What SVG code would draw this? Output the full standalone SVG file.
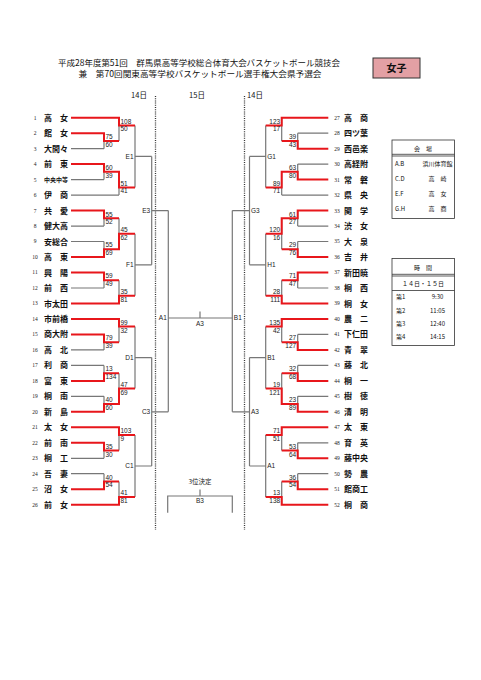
<svg xmlns="http://www.w3.org/2000/svg" width="481" height="680" viewBox="0 0 481 680">
<style>
.g{stroke:#777;stroke-width:1.2;fill:none}
.r{stroke:#e8161b;stroke-width:2;fill:none}
.dot{stroke:#333;stroke-width:1.3;stroke-dasharray:1 1.2;fill:none}
.nm{font-family:"Noto Sans CJK JP","Noto Sans CJK SC",sans-serif;font-size:8px;font-weight:bold;fill:#111}
.nm5{font-family:"Noto Sans CJK JP",sans-serif;font-size:6px;font-weight:bold;fill:#111}
.no{font-family:"Liberation Serif",serif;font-size:5.5px;fill:#222}
.sc{font-family:"Liberation Sans",sans-serif;font-size:6.5px;fill:#222}
.ml{font-family:"Liberation Sans",sans-serif;font-size:6.5px;fill:#222}
.hd{font-family:"Noto Sans CJK JP",sans-serif;font-size:8.5px;fill:#111}
.dt{font-family:"Noto Sans CJK JP",sans-serif;font-size:7.5px;fill:#111}
.tb{font-family:"Noto Sans CJK JP",sans-serif;font-size:6px;fill:#111}
.tl{stroke:#333;stroke-width:0.8;fill:none}
</style>
<rect width="481" height="680" fill="#fff"/>

<g id="title">
<text class="hd" x="199" y="66.3" text-anchor="middle" textLength="282" lengthAdjust="spacingAndGlyphs">平成28年度第51回　群馬県高等学校総合体育大会バスケットボール競技会</text>
<text class="hd" x="200" y="77" text-anchor="middle" textLength="243" lengthAdjust="spacingAndGlyphs">兼　第70回関東高等学校バスケットボール選手権大会県予選会</text>
</g>
<g id="badge">
<rect x="373" y="58" width="47" height="20" fill="#e3a0a4" stroke="#333" stroke-width="1"/>
<text x="396.5" y="71.8" text-anchor="middle" font-family="Noto Sans CJK JP,sans-serif" font-size="10" font-weight="bold" fill="#111">女子</text>
</g>
<g id="dates">
<text class="dt" x="139" y="97.5" text-anchor="middle">14日</text>
<text class="dt" x="197" y="97.5" text-anchor="middle">15日</text>
<text class="dt" x="255" y="97.5" text-anchor="middle">14日</text>
</g>

<g id="connectors">
<path class="dot" d="M155.5,96V530M244.5,96V530"/>
<!-- left gray -->
<path class="g" d="M71,148.7H104M71,179.6H104M71,195.1H119M71,226.1H104M71,241.5H104M71,288H104M71,349.9H104M71,365.4H104M71,396.3H104M71,458.3H104M71,473.7H104"/>
<path class="g" d="M104,133.2V148.7M104,164.1V179.6M104,210.6V226.1M104,241.5V257M104,272.5V288M104,334.4V349.9M104,365.4V380.9M104,396.3V411.8M104,442.8V458.3M104,473.7V489.2"/>
<path class="g" d="M119,117.7V141M119,171.85V195.1M119,218.35V249.25M119,280.25V303.5M119,318.9V342.15M119,373.15V404.05M119,427.3V450.55M119,481.45V504.7"/>
<path class="g" d="M135,125.4V187.4M135,233.8V295.8M135,326.6V388.6M135,435V497"/>
<path class="g" d="M135,156.4H151.7M135,264.8H151.7M135,357.6H151.7M135,466H151.7M151.7,156.4V264.8M151.7,357.6V466M151.7,210.6H168.3M151.7,411.8H168.3M168.3,210.6V411.8"/>
<path class="g" d="M168.3,318H232.3M200,311.5V318"/>
<!-- right gray -->
<path class="g" d="M328.3,133.2H297.7M328.3,164.1H297.7M328.3,195.1H281.7M328.3,226.1H297.7M328.3,241.5H297.7M328.3,288H297.7M328.3,334.4H297.7M328.3,365.4H297.7M328.3,396.3H297.7M328.3,442.8H297.7M328.3,473.7H297.7"/>
<path class="g" d="M297.7,133.2V148.7M297.7,164.1V179.6M297.7,210.6V226.1M297.7,241.5V257M297.7,272.5V288M297.7,334.4V349.9M297.7,365.4V380.9M297.7,396.3V411.8M297.7,442.8V458.3M297.7,473.7V489.2"/>
<path class="g" d="M281.7,117.7V141M281.7,171.85V195.1M281.7,218.35V249.25M281.7,280.25V303.5M281.7,318.9V342.15M281.7,373.15V404.05M281.7,427.3V450.55M281.7,481.45V504.7"/>
<path class="g" d="M265.7,125.4V187.4M265.7,233.8V295.8M265.7,326.6V388.6M265.7,435V497"/>
<path class="g" d="M265.7,156.4H249.5M265.7,264.8H249.5M265.7,357.6H249.5M265.7,466H249.5M249.5,156.4V264.8M249.5,357.6V466M249.5,210.6H232.3M249.5,411.8H232.3M232.3,210.6V411.8"/>
<!-- third place -->
<path class="g" d="M167.7,512.7V496H232.3V512.7M200,489.5V496"/>
<!-- left red -->
<path class="r" d="M71,117.7H119V125.4H135M71,133.2H104V141H119M71,164.1H104V171.85H119V187.4H135M71,210.6H104V218.35H119M71,257H104V249.25H119V233.8H135M71,272.5H104V280.25H119M71,303.5H119V295.8H135"/>
<path class="r" d="M71,318.9H119V326.6H135M71,334.4H104V342.15H119M71,380.9H104V373.15H119M71,411.8H104V404.05H119V388.6H135M71,427.3H119V435H135M71,442.8H104V450.55H119M71,489.2H104V481.45H119M71,504.7H119V497H135"/>
<!-- right red -->
<path class="r" d="M328.3,117.7H281.7V125.4H265.7M328.3,148.7H297.7V141H281.7M328.3,179.6H297.7V171.85H281.7V187.4H265.7M328.3,210.6H297.7V218.35H281.7V233.8H265.7M328.3,257H297.7V249.25H281.7M328.3,272.5H297.7V280.25H281.7M328.3,303.5H281.7V295.8H265.7"/>
<path class="r" d="M328.3,318.9H281.7V326.6H265.7M328.3,349.9H297.7V342.15H281.7M328.3,380.9H297.7V373.15H281.7M328.3,411.8H297.7V404.05H281.7V388.6H265.7M328.3,427.3H281.7V435H265.7M328.3,458.3H297.7V450.55H281.7M328.3,489.2H297.7V481.45H281.7M328.3,504.7H281.7V497H265.7"/>
</g>

<g id="scores-left" class="sc">
<text x="105.5" y="139.2">75</text><text x="105.5" y="147">60</text>
<text x="105.5" y="170">60</text><text x="105.5" y="177.9">39</text>
<text x="105.5" y="216.5">55</text><text x="105.5" y="224.3">52</text>
<text x="105.5" y="247.4">55</text><text x="105.5" y="255.2">69</text>
<text x="105.5" y="278.4">59</text><text x="105.5" y="286.2">49</text>
<text x="105.5" y="340.3">79</text><text x="105.5" y="348.1">39</text>
<text x="105.5" y="371.3">13</text><text x="105.5" y="379.1">134</text>
<text x="105.5" y="402.2">40</text><text x="105.5" y="410">60</text>
<text x="105.5" y="448.7">35</text><text x="105.5" y="456.5">30</text>
<text x="105.5" y="479.6">40</text><text x="105.5" y="487.4">54</text>
<text x="120.5" y="123.6">108</text><text x="120.5" y="131.4">50</text>
<text x="120.5" y="185.6">51</text><text x="120.5" y="193.4">41</text>
<text x="120.5" y="232">45</text><text x="120.5" y="239.8">62</text>
<text x="120.5" y="294">35</text><text x="120.5" y="301.8">81</text>
<text x="120.5" y="324.8">99</text><text x="120.5" y="332.6">32</text>
<text x="120.5" y="386.8">47</text><text x="120.5" y="394.6">69</text>
<text x="120.5" y="433.2">103</text><text x="120.5" y="441">9</text>
<text x="120.5" y="495.2">41</text><text x="120.5" y="503">81</text>
</g>
<g id="scores-right" class="sc" text-anchor="end">
<text x="296.2" y="139.2">39</text><text x="296.2" y="147">43</text>
<text x="296.2" y="170">63</text><text x="296.2" y="177.9">80</text>
<text x="296.2" y="216.5">61</text><text x="296.2" y="224.3">27</text>
<text x="296.2" y="247.4">29</text><text x="296.2" y="255.2">76</text>
<text x="296.2" y="278.4">71</text><text x="296.2" y="286.2">47</text>
<text x="296.2" y="340.3">27</text><text x="296.2" y="348.1">127</text>
<text x="296.2" y="371.3">32</text><text x="296.2" y="379.1">68</text>
<text x="296.2" y="402.2">23</text><text x="296.2" y="410">89</text>
<text x="296.2" y="448.7">53</text><text x="296.2" y="456.5">64</text>
<text x="296.2" y="479.6">36</text><text x="296.2" y="487.4">54</text>
<text x="280.2" y="123.6">123</text><text x="280.2" y="131.4">17</text>
<text x="280.2" y="185.6">89</text><text x="280.2" y="193.4">71</text>
<text x="280.2" y="232">120</text><text x="280.2" y="239.8">16</text>
<text x="280.2" y="294">28</text><text x="280.2" y="301.8">111</text>
<text x="280.2" y="324.8">135</text><text x="280.2" y="332.6">42</text>
<text x="280.2" y="386.8">19</text><text x="280.2" y="394.6">121</text>
<text x="280.2" y="433.2">71</text><text x="280.2" y="441">51</text>
<text x="280.2" y="495.2">13</text><text x="280.2" y="503">138</text>
</g>

<g id="match-E1" class="ml"><text x="133.5" y="158.7" text-anchor="end">E1</text></g>
<g id="match-F1" class="ml"><text x="133.5" y="267.1" text-anchor="end">F1</text></g>
<g id="match-D1" class="ml"><text x="133.5" y="359.9" text-anchor="end">D1</text></g>
<g id="match-C1" class="ml"><text x="133.5" y="468.3" text-anchor="end">C1</text></g>
<g id="match-E3" class="ml"><text x="150.2" y="212.9" text-anchor="end">E3</text></g>
<g id="match-C3" class="ml"><text x="150.2" y="414.1" text-anchor="end">C3</text></g>
<g id="match-A1c" class="ml"><text x="166.8" y="320.3" text-anchor="end">A1</text></g>
<g id="match-B1c" class="ml"><text x="233.8" y="320.3">B1</text></g>
<g id="match-A3c" class="ml"><text x="200" y="325.5" text-anchor="middle">A3</text></g>
<g id="match-G1" class="ml"><text x="267.2" y="158.7">G1</text></g>
<g id="match-H1" class="ml"><text x="267.2" y="267.1">H1</text></g>
<g id="match-B1" class="ml"><text x="267.2" y="359.9">B1</text></g>
<g id="match-A1" class="ml"><text x="267.2" y="468.3">A1</text></g>
<g id="match-G3" class="ml"><text x="251" y="212.9">G3</text></g>
<g id="match-A3" class="ml"><text x="251" y="414.1">A3</text></g>
<g id="match-B3" class="ml"><text x="200" y="484" text-anchor="middle" font-family="Noto Sans CJK JP,sans-serif">3位決定</text><text x="200" y="503.2" text-anchor="middle">B3</text></g>

<g id="teams-left">
<g id="t1"><text class="no" x="35" y="119.6" text-anchor="middle">1</text><text class="nm" x="44" y="120.7">高　女</text></g>
<g id="t2"><text class="no" x="35" y="135.1" text-anchor="middle">2</text><text class="nm" x="44" y="136.2">館　女</text></g>
<g id="t3"><text class="no" x="35" y="150.6" text-anchor="middle">3</text><text class="nm" x="44" y="151.7">大間々</text></g>
<g id="t4"><text class="no" x="35" y="166" text-anchor="middle">4</text><text class="nm" x="44" y="167.1">前　東</text></g>
<g id="t5"><text class="no" x="35" y="181.5" text-anchor="middle">5</text><text class="nm5" x="44" y="181.8">中央中等</text></g>
<g id="t6"><text class="no" x="35" y="197" text-anchor="middle">6</text><text class="nm" x="44" y="198.1">伊　商</text></g>
<g id="t7"><text class="no" x="35" y="212.5" text-anchor="middle">7</text><text class="nm" x="44" y="213.6">共　愛</text></g>
<g id="t8"><text class="no" x="35" y="228" text-anchor="middle">8</text><text class="nm" x="44" y="229.1">健大高</text></g>
<g id="t9"><text class="no" x="35" y="243.4" text-anchor="middle">9</text><text class="nm" x="44" y="244.5">安総合</text></g>
<g id="t10"><text class="no" x="35" y="258.9" text-anchor="middle">10</text><text class="nm" x="44" y="260">高　東</text></g>
<g id="t11"><text class="no" x="35" y="274.4" text-anchor="middle">11</text><text class="nm" x="44" y="275.5">興　陽</text></g>
<g id="t12"><text class="no" x="35" y="289.9" text-anchor="middle">12</text><text class="nm" x="44" y="291">前　西</text></g>
<g id="t13"><text class="no" x="35" y="305.4" text-anchor="middle">13</text><text class="nm" x="44" y="306.5">市太田</text></g>
<g id="t14"><text class="no" x="35" y="320.8" text-anchor="middle">14</text><text class="nm" x="44" y="321.9">市前橋</text></g>
<g id="t15"><text class="no" x="35" y="336.3" text-anchor="middle">15</text><text class="nm" x="44" y="337.4">商大附</text></g>
<g id="t16"><text class="no" x="35" y="351.8" text-anchor="middle">16</text><text class="nm" x="44" y="352.9">高　北</text></g>
<g id="t17"><text class="no" x="35" y="367.3" text-anchor="middle">17</text><text class="nm" x="44" y="368.4">利　商</text></g>
<g id="t18"><text class="no" x="35" y="382.8" text-anchor="middle">18</text><text class="nm" x="44" y="383.9">富　東</text></g>
<g id="t19"><text class="no" x="35" y="398.2" text-anchor="middle">19</text><text class="nm" x="44" y="399.3">桐　南</text></g>
<g id="t20"><text class="no" x="35" y="413.7" text-anchor="middle">20</text><text class="nm" x="44" y="414.8">新　島</text></g>
<g id="t21"><text class="no" x="35" y="429.2" text-anchor="middle">21</text><text class="nm" x="44" y="430.3">太　女</text></g>
<g id="t22"><text class="no" x="35" y="444.7" text-anchor="middle">22</text><text class="nm" x="44" y="445.8">前　南</text></g>
<g id="t23"><text class="no" x="35" y="460.2" text-anchor="middle">23</text><text class="nm" x="44" y="461.3">桐　工</text></g>
<g id="t24"><text class="no" x="35" y="475.6" text-anchor="middle">24</text><text class="nm" x="44" y="476.7">吾　妻</text></g>
<g id="t25"><text class="no" x="35" y="491.1" text-anchor="middle">25</text><text class="nm" x="44" y="492.2">沼　女</text></g>
<g id="t26"><text class="no" x="35" y="506.6" text-anchor="middle">26</text><text class="nm" x="44" y="507.7">前　女</text></g>
</g>

<g id="teams-right">
<g id="t27"><text class="no" x="337" y="119.6" text-anchor="middle">27</text><text class="nm" x="344" y="120.7">高　商</text></g>
<g id="t28"><text class="no" x="337" y="135.1" text-anchor="middle">28</text><text class="nm" x="344" y="136.2">四ツ葉</text></g>
<g id="t29"><text class="no" x="337" y="150.6" text-anchor="middle">29</text><text class="nm" x="344" y="151.7">西邑楽</text></g>
<g id="t30"><text class="no" x="337" y="166" text-anchor="middle">30</text><text class="nm" x="344" y="167.1">高経附</text></g>
<g id="t31"><text class="no" x="337" y="181.5" text-anchor="middle">31</text><text class="nm" x="344" y="182.6">常　磐</text></g>
<g id="t32"><text class="no" x="337" y="197" text-anchor="middle">32</text><text class="nm" x="344" y="198.1">県　央</text></g>
<g id="t33"><text class="no" x="337" y="212.5" text-anchor="middle">33</text><text class="nm" x="344" y="213.6">関　学</text></g>
<g id="t34"><text class="no" x="337" y="228" text-anchor="middle">34</text><text class="nm" x="344" y="229.1">渋　女</text></g>
<g id="t35"><text class="no" x="337" y="243.4" text-anchor="middle">35</text><text class="nm" x="344" y="244.5">大　泉</text></g>
<g id="t36"><text class="no" x="337" y="258.9" text-anchor="middle">36</text><text class="nm" x="344" y="260">吉　井</text></g>
<g id="t37"><text class="no" x="337" y="274.4" text-anchor="middle">37</text><text class="nm" x="344" y="275.5">新田暁</text></g>
<g id="t38"><text class="no" x="337" y="289.9" text-anchor="middle">38</text><text class="nm" x="344" y="291">桐　西</text></g>
<g id="t39"><text class="no" x="337" y="305.4" text-anchor="middle">39</text><text class="nm" x="344" y="306.5">桐　女</text></g>
<g id="t40"><text class="no" x="337" y="320.8" text-anchor="middle">40</text><text class="nm" x="344" y="321.9">農　二</text></g>
<g id="t41"><text class="no" x="337" y="336.3" text-anchor="middle">41</text><text class="nm" x="344" y="337.4">下仁田</text></g>
<g id="t42"><text class="no" x="337" y="351.8" text-anchor="middle">42</text><text class="nm" x="344" y="352.9">青　翠</text></g>
<g id="t43"><text class="no" x="337" y="367.3" text-anchor="middle">43</text><text class="nm" x="344" y="368.4">藤　北</text></g>
<g id="t44"><text class="no" x="337" y="382.8" text-anchor="middle">44</text><text class="nm" x="344" y="383.9">桐　一</text></g>
<g id="t45"><text class="no" x="337" y="398.2" text-anchor="middle">45</text><text class="nm" x="344" y="399.3">樹　徳</text></g>
<g id="t46"><text class="no" x="337" y="413.7" text-anchor="middle">46</text><text class="nm" x="344" y="414.8">清　明</text></g>
<g id="t47"><text class="no" x="337" y="429.2" text-anchor="middle">47</text><text class="nm" x="344" y="430.3">太　東</text></g>
<g id="t48"><text class="no" x="337" y="444.7" text-anchor="middle">48</text><text class="nm" x="344" y="445.8">育　英</text></g>
<g id="t49"><text class="no" x="337" y="460.2" text-anchor="middle">49</text><text class="nm" x="344" y="461.3">藤中央</text></g>
<g id="t50"><text class="no" x="337" y="475.6" text-anchor="middle">50</text><text class="nm" x="344" y="476.7">勢　農</text></g>
<g id="t51"><text class="no" x="337" y="491.1" text-anchor="middle">51</text><text class="nm" x="344" y="492.2">館商工</text></g>
<g id="t52"><text class="no" x="337" y="506.6" text-anchor="middle">52</text><text class="nm" x="344" y="507.7">桐　商</text></g>
</g>

<g id="venue-table">
<rect class="tl" x="392" y="140" width="62.5" height="78.5"/>
<path class="tl" d="M392,154.3H454.5M392,156H454.5"/>
<text class="tb" x="423" y="150.5" text-anchor="middle" font-size="7">会　場</text>
<text class="tb" x="395" y="166.2" font-size="5.5">A.B</text><text class="tb" x="437.5" y="166.2" text-anchor="middle">浜川体育館</text>
<text class="tb" x="395" y="181" font-size="5.5">C.D</text><text class="tb" x="437.5" y="181" text-anchor="middle">高　崎</text>
<text class="tb" x="395" y="196.2" font-size="5.5">E.F</text><text class="tb" x="437.5" y="196.2" text-anchor="middle">高　女</text>
<text class="tb" x="395" y="210.8" font-size="5.5">G.H</text><text class="tb" x="437.5" y="210.8" text-anchor="middle">高　商</text>
</g>

<g id="time-table">
<rect class="tl" x="392" y="258.5" width="62.5" height="87"/>
<path class="tl" d="M392,274.3H454.5M392,276H454.5M392,290.5H454.5"/>
<text class="tb" x="423" y="269.6" text-anchor="middle" font-size="7">時　間</text>
<text class="tb" x="423" y="286" text-anchor="middle">１４日・１５日</text>
<text class="tb" x="396" y="299.3">第1</text><text class="tb" x="437.5" y="299.3" text-anchor="middle">9:30</text>
<text class="tb" x="396" y="312.5">第2</text><text class="tb" x="437.5" y="312.5" text-anchor="middle">11:05</text>
<text class="tb" x="396" y="326">第3</text><text class="tb" x="437.5" y="326" text-anchor="middle">12:40</text>
<text class="tb" x="396" y="339.3">第4</text><text class="tb" x="437.5" y="339.3" text-anchor="middle">14:15</text>
</g>
</svg>
